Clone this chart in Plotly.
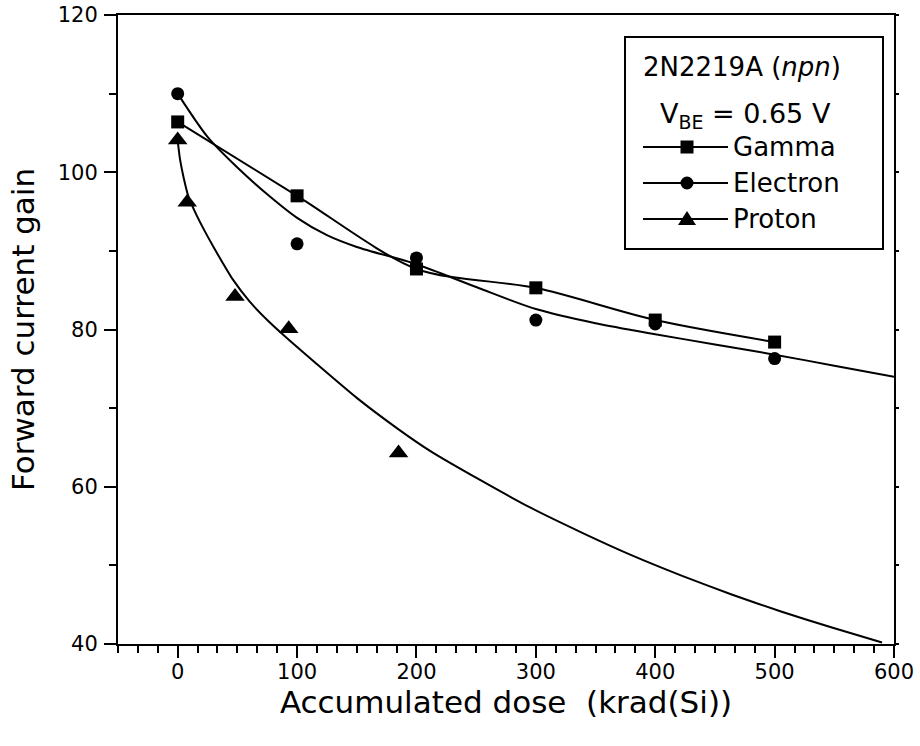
import plotly.graph_objects as go

# ---------------- data ----------------
dose_gamma = [0, 100, 200, 300, 400, 500]
gain_gamma = [106.4, 97.0, 87.7, 85.3, 81.2, 78.4]

dose_electron = [0, 100, 200, 300, 400, 500]
gain_electron = [110.0, 90.9, 89.1, 81.2, 80.7, 76.3]

dose_proton = [0, 8, 48, 93, 185]
gain_proton = [104.1, 96.2, 84.2, 80.1, 64.3]

# fitted curves as drawn in the reference
fit_electron_x = [0, 25, 50, 75, 100, 125, 150, 200, 250, 300, 350, 400, 450, 500, 550, 600]
fit_electron_y = [110.0, 104.5, 100.6, 97.2, 94.2, 92.0, 90.5, 88.3, 85.4, 82.6, 80.8, 79.4, 78.1, 76.8, 75.4, 74.0]

fit_proton_x = [0, 2, 5, 9, 15, 22, 30, 38, 46, 60, 75, 90, 115, 150, 185, 212, 254, 296, 338, 380, 422, 464, 506, 548, 590]
fit_proton_y = [104.0, 101.6, 99.3, 96.9, 94.8, 92.7, 90.5, 88.4, 86.4, 83.6, 81.2, 79.1, 75.8, 71.3, 67.3, 64.5, 60.8, 57.3, 54.2, 51.3, 48.7, 46.3, 44.1, 42.1, 40.2]

x_ticks = [0, 100, 200, 300, 400, 500, 600]
y_ticks = [40, 60, 80, 100, 120]

series_names = ["Gamma", "Electron", "Proton"]
legend_header = ["2N2219A (<i>npn</i>)", "V<sub>BE</sub> = 0.65 V"]

# ---------------- layout geometry (picture pixels) ----------------
W, H = 920, 746
L, R, T, B = 118, 894, 15, 644
FONT = "DejaVu Sans"


def P(px, py):
    return (px - L) / (R - L), (B - py) / (B - T)


fig = go.Figure()

# Gamma: line through points
fig.add_trace(go.Scatter(x=dose_gamma, y=gain_gamma, mode="lines+markers",
                         line=dict(color="black", width=2, shape="spline", smoothing=0.8),
                         marker=dict(symbol="square", size=13, color="black"),
                         name="Gamma", showlegend=False))
# Electron
fig.add_trace(go.Scatter(x=fit_electron_x, y=fit_electron_y, mode="lines",
                         line=dict(color="black", width=2, shape="spline", smoothing=0.8),
                         showlegend=False, hoverinfo="skip"))
fig.add_trace(go.Scatter(x=dose_electron, y=gain_electron, mode="markers",
                         marker=dict(symbol="circle", size=13, color="black"),
                         name="Electron", showlegend=False))
# Proton
fig.add_trace(go.Scatter(x=fit_proton_x, y=fit_proton_y, mode="lines",
                         line=dict(color="black", width=2, shape="spline", smoothing=0.6),
                         showlegend=False, hoverinfo="skip"))
fig.add_trace(go.Scatter(x=dose_proton, y=gain_proton, mode="markers",
                         marker=dict(symbol="triangle-up", size=17, color="black"),
                         name="Proton", showlegend=False))
# dummy trace for the right axis ticks
fig.add_trace(go.Scatter(x=[None], y=[None], yaxis="y2", showlegend=False, hoverinfo="skip"))

# ---------------- manual legend ----------------
shapes = []
annotations = []
bx0, by0 = P(625, 37)
bx1, by1 = P(883, 249)
shapes.append(dict(type="rect", xref="paper", yref="paper", x0=bx0, x1=bx1, y0=by1, y1=by0,
                   line=dict(color="black", width=2), fillcolor="white", layer="above"))

hx, hy = P(742, 67)
annotations.append(dict(xref="paper", yref="paper", x=hx, y=hy, text=legend_header[0],
                        showarrow=False, xanchor="center", yanchor="middle",
                        font=dict(family=FONT, size=26, color="black")))
vx, vy = P(658, 115)
annotations.append(dict(xref="paper", yref="paper", x=vx, y=vy, text=legend_header[1],
                        showarrow=False, xanchor="left", yanchor="middle",
                        font=dict(family=FONT, size=27, color="black")))

rows_y = [147, 183, 219]
for name, ry, sym in zip(series_names, rows_y, ["square", "circle", "triangle"]):
    lx0, ly = P(643, ry)
    lx1, _ = P(728, ry)
    shapes.append(dict(type="line", xref="paper", yref="paper", x0=lx0, x1=lx1, y0=ly, y1=ly,
                       line=dict(color="black", width=2), layer="above"))
    cx = 687
    if sym == "square":
        a = P(cx - 6.5, ry - 6.5)
        b = P(cx + 6.5, ry + 6.5)
        shapes.append(dict(type="rect", xref="paper", yref="paper", x0=a[0], x1=b[0], y0=b[1], y1=a[1],
                           line=dict(color="black", width=0), fillcolor="black", layer="above"))
    elif sym == "circle":
        a = P(cx - 6.5, ry - 6.5)
        b = P(cx + 6.5, ry + 6.5)
        shapes.append(dict(type="circle", xref="paper", yref="paper", x0=a[0], x1=b[0], y0=b[1], y1=a[1],
                           line=dict(color="black", width=0), fillcolor="black", layer="above"))
    else:
        p1 = P(cx, ry - 8)
        p2 = P(cx - 9, ry + 6)
        p3 = P(cx + 9, ry + 6)
        path = f"M {p1[0]},{p1[1]} L {p2[0]},{p2[1]} L {p3[0]},{p3[1]} Z"
        shapes.append(dict(type="path", xref="paper", yref="paper", path=path,
                           line=dict(color="black", width=0), fillcolor="black", layer="above"))
    tx, ty = P(731, ry)
    annotations.append(dict(xref="paper", yref="paper", x=tx, y=ty, text=name,
                            showarrow=False, xanchor="left", yanchor="middle",
                            font=dict(family=FONT, size=26, color="black")))

fig.update_layout(
    width=W, height=H,
    margin=dict(l=L, r=W - R, t=T, b=H - B, pad=0, autoexpand=False),
    plot_bgcolor="white", paper_bgcolor="white",
    font=dict(family=FONT, size=21, color="black"),
    shapes=shapes, annotations=annotations,
    showlegend=False,
    xaxis=dict(range=[-50, 600], tickmode="array", tickvals=x_ticks, automargin=False,
               ticks="outside", ticklen=12, tickwidth=2, tickcolor="black",
               showline=True, linewidth=2, linecolor="black", mirror=True,
               showgrid=False, zeroline=False, ticklabelstandoff=-4,
               ticklabeloverflow="allow",
               tickfont=dict(family=FONT, size=21, color="black"),
               minor=dict(tick0=0, dtick=100 / 6, ticks="outside", ticklen=7,
                          tickwidth=2, tickcolor="black", showgrid=False),
               title=dict(text="Accumulated dose \u00a0(krad(Si))", standoff=0,
                          font=dict(family=FONT, size=31, color="black"))),
    yaxis=dict(range=[40, 120], tickmode="array", tickvals=y_ticks, automargin=False,
               ticks="outside", ticklen=12, tickwidth=2, tickcolor="black",
               showline=True, linewidth=2, linecolor="black", mirror=True,
               showgrid=False, zeroline=False, ticklabelstandoff=2,
               ticklabeloverflow="allow",
               tickfont=dict(family=FONT, size=21, color="black"),
               minor=dict(tick0=40, dtick=10, ticks="outside", ticklen=7,
                          tickwidth=2, tickcolor="black", showgrid=False),
               title=dict(text="Forward current gain", standoff=14,
                          font=dict(family=FONT, size=31, color="black"))),
    yaxis2=dict(range=[40, 120], overlaying="y", side="right", anchor="x", automargin=False,
                tickmode="linear", tick0=40, dtick=10, ticks="outside", ticklen=4,
                tickwidth=2, tickcolor="black", showticklabels=False,
                showline=False, showgrid=False, zeroline=False),
)

# remove the default 8px page margin so the figure fills the window exactly
fig.write_html("out.html", config={"displayModeBar": False},
               post_script="document.body.style.margin='0';")
